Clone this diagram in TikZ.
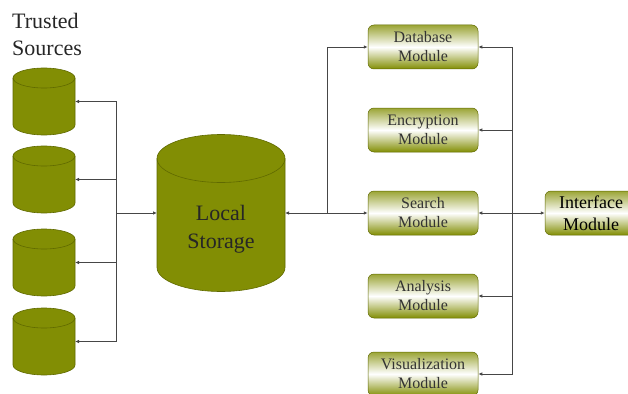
\documentclass[tikz,border=0pt]{standalone}
\usepackage{fontspec}
\setmainfont{Liberation Serif}
\usetikzlibrary{arrows.meta}
\definecolor{olv}{RGB}{130,142,4}
\definecolor{olvd}{RGB}{96,106,0}
\definecolor{lnc}{RGB}{70,70,70}
\newcommand{\drawcyl}[3]{%
  \fill[olv, draw=olvd, line width=0.6pt]
    ([yshift=-#3]#1.north west) -- ([yshift=#3]#1.south west)
    arc[start angle=180, end angle=360, x radius=#2, y radius=#3]
    -- ([yshift=-#3]#1.north east)
    arc[start angle=0, end angle=180, x radius=#2, y radius=#3] -- cycle;
  \draw[olvd, line width=0.6pt] ([yshift=-#3]#1.north west)
    arc[start angle=180, end angle=360, x radius=#2, y radius=#3];
}
\begin{document}
\begin{tikzpicture}[x=1pt, y=-1pt,
  cylnode/.style={inner sep=0pt, outer sep=0pt, draw=none},
  modbox/.style={rounded corners=6pt, draw=olvd, line width=0.5pt,
    top color=olv!80, bottom color=olv, middle color=white,
    minimum width=110pt, minimum height=44pt, align=center, inner sep=0pt,
    font=\fontsize{16}{19}\selectfont, text=black!80},
  conn/.style={draw=lnc, line width=0.8pt, -{Latex[length=4pt,width=3.5pt]}}
]
\useasboundingbox[fill=white] (0,0) rectangle (628,393);

\node[anchor=north west, align=left, inner sep=0pt,
  font=\fontsize{22}{27}\selectfont, text=black!85] (title) at (12,13) {Trusted\\Sources};

\node[cylnode, minimum width=62pt, minimum height=67pt] (s1) at (44,101.5) {};
\node[cylnode, minimum width=62pt, minimum height=67pt] (s2) at (44,179.5) {};
\node[cylnode, minimum width=62pt, minimum height=67pt] (s3) at (44,262.5) {};
\node[cylnode, minimum width=62pt, minimum height=67pt] (s4) at (44,341.5) {};
\drawcyl{s1}{31pt}{10pt}
\drawcyl{s2}{31pt}{10pt}
\drawcyl{s3}{31pt}{10pt}
\drawcyl{s4}{31pt}{10pt}

\node[cylnode, minimum width=128pt, minimum height=157pt] (ls) at (221,213) {};
\drawcyl{ls}{64pt}{24pt}
\node[align=center, inner sep=0pt, font=\fontsize{22}{28}\selectfont, text=black!85]
  (lstext) at (221,229) {Local\\Storage};

\node[modbox] (db) at (423,47) {Database\\Module};
\node[modbox] (enc) at (423,130) {Encryption\\Module};
\node[modbox] (srch) at (423,213) {Search\\Module};
\node[modbox] (ana) at (423,296) {Analysis\\Module};
\node[modbox] (vis) at (423,374) {Visualization\\Module};
\node[modbox, minimum width=92pt, font=\fontsize{18}{22}\selectfont, text=black] (iface) at (591,213) {Interface\\Module};

\coordinate (bl) at (116,213);
\coordinate (br) at (327,213);
\coordinate (bR) at (512,213);

\draw[conn] (bl) -- (ls.west);
\draw[conn] (bl) |- (s1.east);
\draw[conn] (bl) |- (s2.east);
\draw[conn] (bl) |- (s3.east);
\draw[conn] (bl) |- (s4.east);

\draw[conn] (br) -- (ls.east);
\draw[conn] (br) |- (db.west);
\draw[conn] (br) -- (srch.west);

\draw[conn] (bR) |- (db.east);
\draw[conn] (bR) |- (enc.east);
\draw[conn] (bR) |- (ana.east);
\draw[conn] (bR) |- (vis.east);
\draw[conn, {Latex[length=4pt,width=3.5pt]}-{Latex[length=4pt,width=3.5pt]}] (srch.east) -- (iface.west);
\end{tikzpicture}
\end{document}
